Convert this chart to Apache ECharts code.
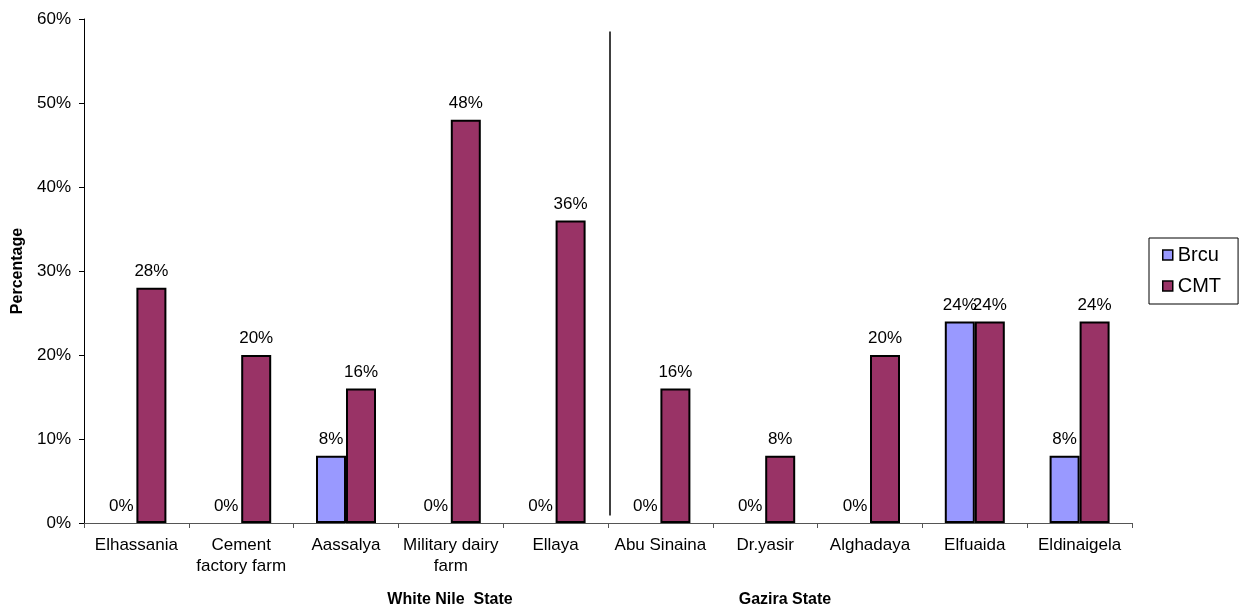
<!DOCTYPE html>
<html>
<head>
<meta charset="utf-8">
<script src="https://cdn.jsdelivr.net/npm/echarts@6/dist/echarts.min.js"></script>
<style>
  html, body { margin: 0; padding: 0; background: #fff; }
  #chart { width: 1249px; height: 614px; }
</style>
</head>
<body>
<div id="chart"></div>
<script>
// Farms surveyed, grouped by state (first five White Nile, last five Gazira)
const categories = [
  'Elhassania', 'Cement\nfactory farm', 'Aassalya', 'Military dairy\nfarm', 'Ellaya',
  'Abu Sinaina', 'Dr.yasir', 'Alghadaya', 'Elfuaida', 'Eldinaigela'
];
const brcuValues = [0, 0, 8, 0, 0, 0, 0, 0, 24, 8];
const cmtValues = [28, 20, 16, 48, 36, 16, 8, 20, 24, 24];
const yTicks = [0, 10, 20, 30, 40, 50, 60];
const stateNames = ['White Nile  State', 'Gazira State'];
const seriesNames = ['Brcu', 'CMT'];

const FONT = "'Liberation Sans', Arial, sans-serif";

const chart = echarts.init(document.getElementById('chart'), null, { renderer: 'canvas' });

const barLabel = {
  show: true,
  position: 'top',
  distance: 8,
  formatter: '{c}%',
  color: '#000',
  fontFamily: FONT,
  fontSize: 17
};

// Zero-height bars get no outline so only their value label shows
function toBarData(values) {
  return values.map(v => (v === 0 ? { value: v, itemStyle: { borderWidth: 0 } } : v));
}

const option = {
  animation: false,
  backgroundColor: '#fff',
  textStyle: { fontFamily: FONT, color: '#000' },
  grid: {
    left: 84, right: 117, top: 19, bottom: 91,
    containLabel: false,
    outerBoundsMode: 'none'
  },
  legend: {
    orient: 'vertical',
    left: 1149,
    top: 238,
    data: seriesNames,
    icon: 'rect',
    itemWidth: 10,
    itemHeight: 10,
    itemGap: 11,
    padding: [7, 17, 8, 13],
    borderColor: '#000',
    borderWidth: 1,
    backgroundColor: '#fff',
    itemStyle: { borderColor: '#000', borderWidth: 1.5 },
    textStyle: { fontFamily: FONT, fontSize: 20, color: '#000' }
  },
  xAxis: {
    type: 'category',
    data: categories,
    axisLine: { show: true, lineStyle: { color: '#555', width: 1 } },
    axisTick: { show: true, alignWithLabel: false, interval: 0, length: 5, lineStyle: { color: '#555' } },
    axisLabel: {
      interval: 0,
      margin: 12,
      color: '#000',
      fontFamily: FONT,
      fontSize: 17,
      lineHeight: 21,
      hideOverlap: false
    },
    splitLine: { show: false }
  },
  yAxis: {
    type: 'value',
    min: yTicks[0],
    max: yTicks[yTicks.length - 1],
    interval: yTicks[1] - yTicks[0],
    name: 'Percentage',
    nameLocation: 'middle',
    nameRotate: 90,
    nameGap: 58,
    nameTextStyle: { fontFamily: FONT, fontSize: 16, fontWeight: 'bold', color: '#000' },
    axisLine: { show: true, lineStyle: { color: '#000', width: 1 } },
    axisTick: { show: true, length: 5, inside: false, lineStyle: { color: '#000' } },
    axisLabel: {
      margin: 13,
      color: '#000',
      fontFamily: FONT,
      fontSize: 17,
      formatter: '{value}%'
    },
    splitLine: { show: false }
  },
  series: [
    {
      name: seriesNames[0],
      type: 'bar',
      data: toBarData(brcuValues),
      barWidth: 30,
      barGap: '0%',
      itemStyle: { color: '#9999FF', borderColor: '#000', borderWidth: 2 },
      label: barLabel
    },
    {
      name: seriesNames[1],
      type: 'bar',
      data: toBarData(cmtValues),
      barWidth: 30,
      barGap: '0%',
      itemStyle: { color: '#993366', borderColor: '#000', borderWidth: 2 },
      label: barLabel
    }
  ]
};

chart.setOption(option);

// Divider between the two states, placed on the category boundary
const xLeft = chart.convertToPixel({ xAxisIndex: 0 }, 4);
const xRight = chart.convertToPixel({ xAxisIndex: 0 }, 5);
const xDivider = Math.round((xLeft + xRight) / 2) + 2;
const yTop = chart.convertToPixel({ yAxisIndex: 0 }, 58.5);
const yBottom = chart.convertToPixel({ yAxisIndex: 0 }, 0.9);

chart.setOption({
  graphic: [
    {
      type: 'line',
      shape: { x1: xDivider, y1: yTop, x2: xDivider, y2: yBottom },
      style: { stroke: '#000', lineWidth: 1.5 },
      silent: true
    },
    {
      type: 'text',
      x: 450,
      y: 600,
      style: {
        text: stateNames[0],
        fontFamily: FONT, fontSize: 16, fontWeight: 'bold', fill: '#000',
        textAlign: 'center', textVerticalAlign: 'middle'
      }
    },
    {
      type: 'text',
      x: 785,
      y: 600,
      style: {
        text: stateNames[1],
        fontFamily: FONT, fontSize: 16, fontWeight: 'bold', fill: '#000',
        textAlign: 'center', textVerticalAlign: 'middle'
      }
    }
  ]
});
</script>
</body>
</html>
